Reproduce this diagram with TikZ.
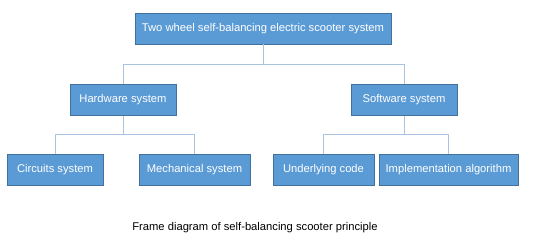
\documentclass[tikz,border=0pt]{standalone}
\usepackage{fontspec}
\setmainfont{Liberation Sans}
\usetikzlibrary{positioning}
\definecolor{boxfill}{HTML}{5B9BD5}
\definecolor{boxline}{HTML}{41719C}
\definecolor{linkcol}{HTML}{A9C4E0}
\tikzset{
  blk/.style ={rectangle, draw=boxline, line width=0.9pt, fill=boxfill, text=white, minimum height=31pt, inner sep=2pt, font=\fontsize{11.2}{13}\selectfont},
  lnk/.style ={draw=linkcol, line width=1pt},
  captxt/.style ={font=\fontsize{11.2}{13}\selectfont, text=black},
}
\begin{document}
\begin{tikzpicture}[x=1pt, y=-1pt]
\useasboundingbox (0,0) rectangle (554,245);
\node[blk, minimum width=256pt] (scooter) at (263,28.5) {Two wheel self-balancing electric scooter system};
\node[blk, minimum width=106pt] (hw) at (123,100) {Hardware system};
\node[blk, minimum width=106pt] (sw) at (404,100) {Software system};
\node[blk, minimum width=96pt]  (circ) at (55,170) {Circuits system};
\node[blk, minimum width=111pt] (mech) at (194.5,170) {Mechanical system};
\node[blk, minimum width=101pt] (code) at (323.5,170) {Underlying code};
\node[blk, minimum width=139pt] (algo) at (448.5,170) {Implementation algorithm};
\draw[lnk] (scooter.south) -- ++(0,20) -| (hw.north);
\draw[lnk] (scooter.south) -- ++(0,20) -| (sw.north);
\draw[lnk] (hw.south) -- ++(0,19) -| (circ.north);
\draw[lnk] (hw.south) -- ++(0,19) -| (mech.north);
\draw[lnk] (sw.south) -- ++(0,19) -| (code.north);
\draw[lnk] (sw.south) -- ++(0,19) -| (algo.north);
\node[captxt] (caption) at (255,228) {Frame diagram of self-balancing scooter principle};
\end{tikzpicture}
\end{document}
